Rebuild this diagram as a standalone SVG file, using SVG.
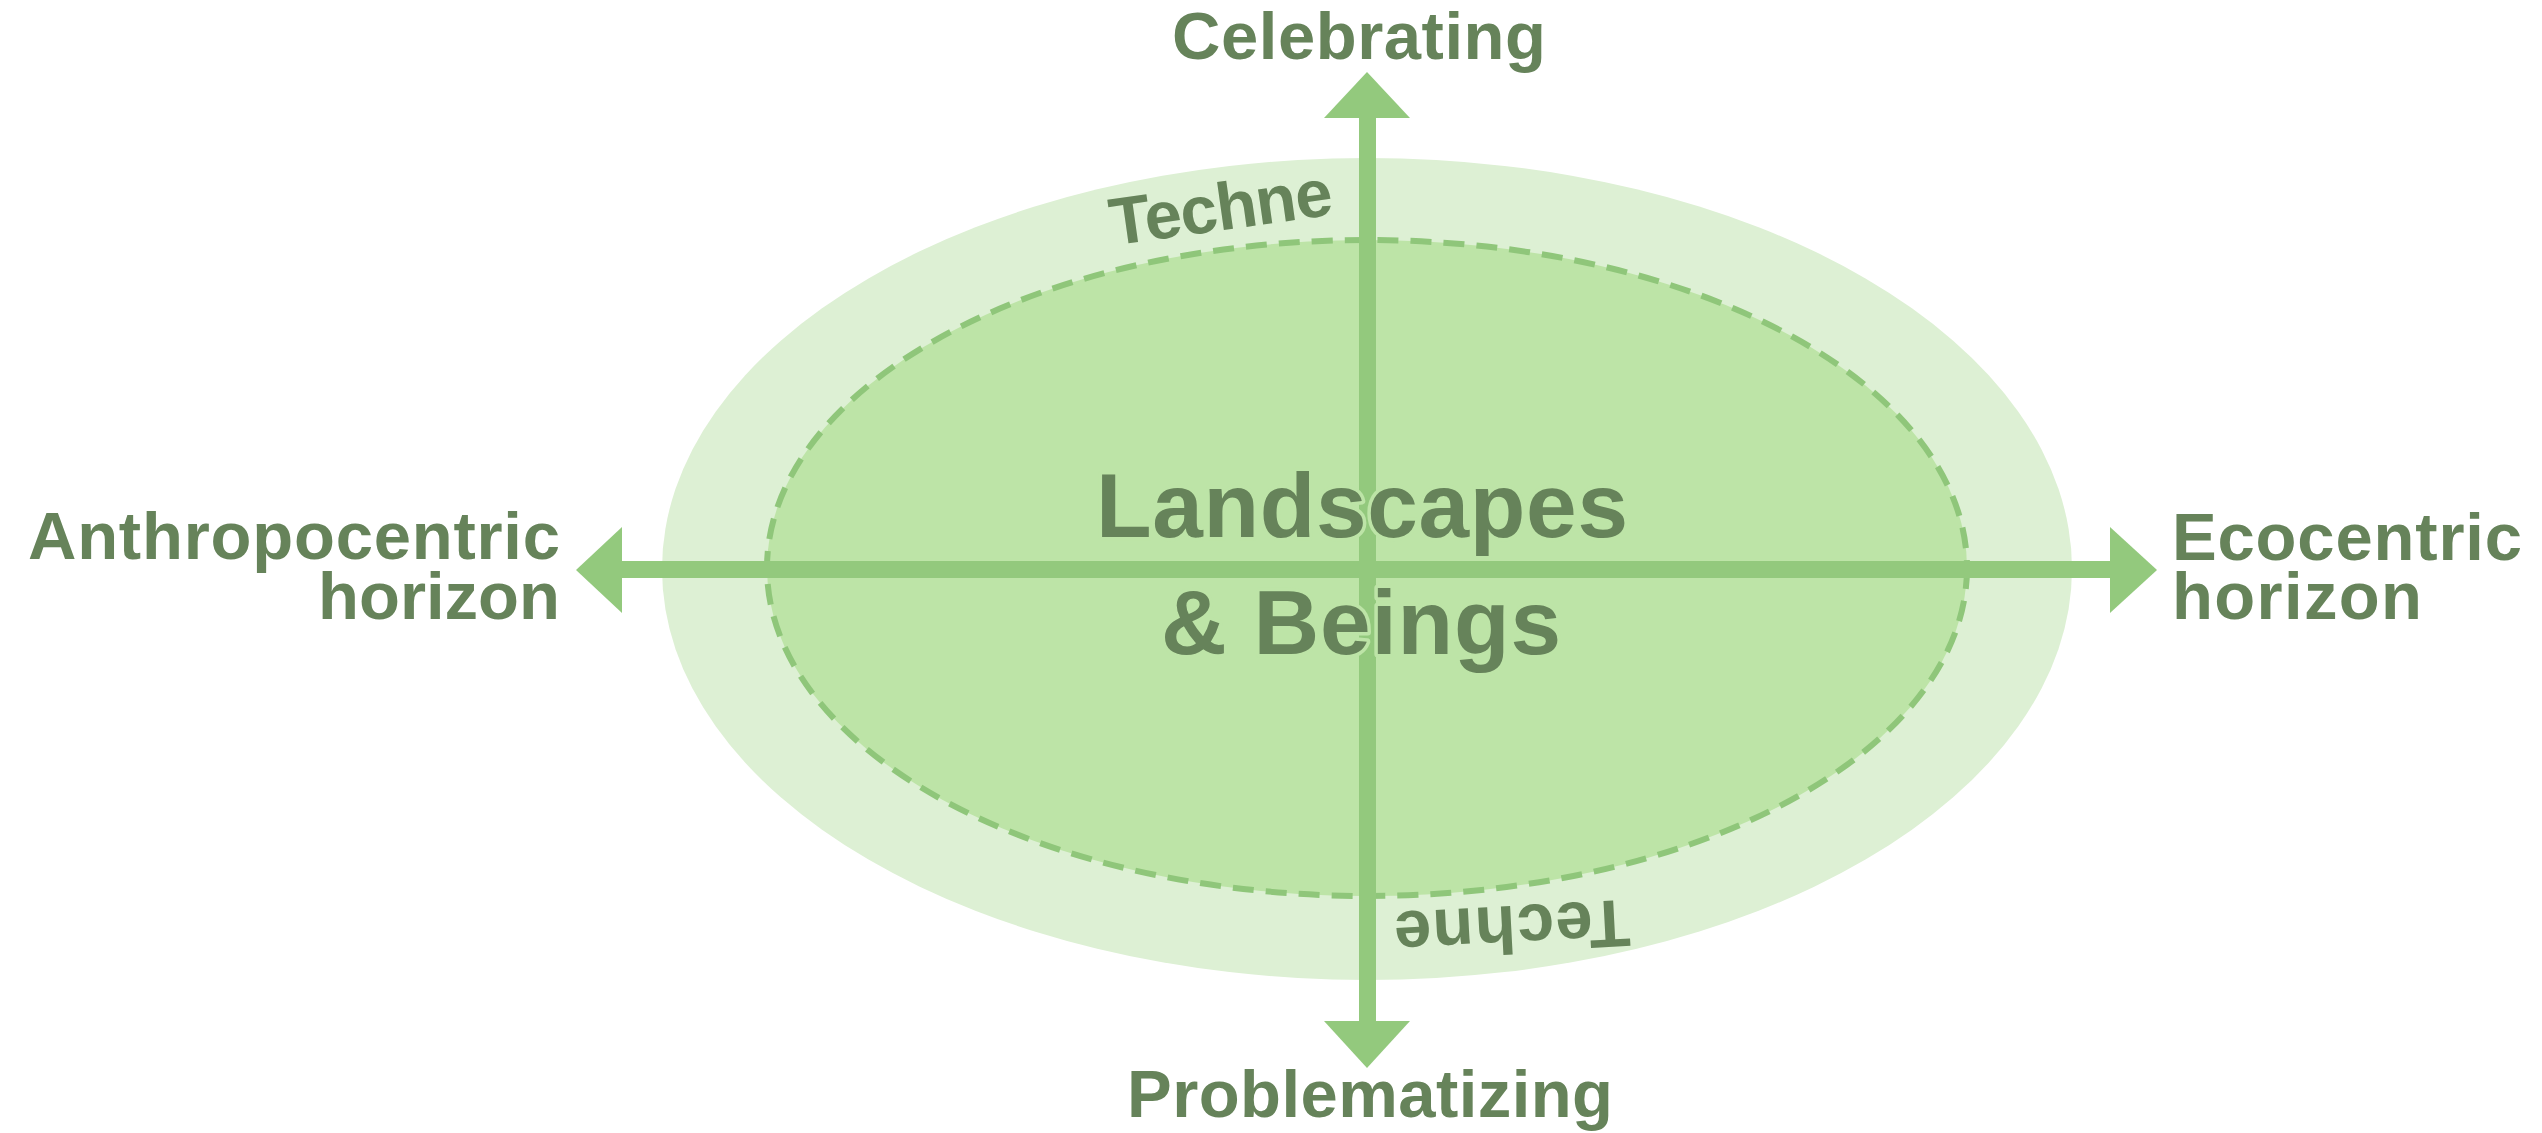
<svg xmlns="http://www.w3.org/2000/svg" width="2542" height="1133" viewBox="0 0 2542 1133">
  <style>
    .lbl { font-family: "Liberation Sans", Arial, sans-serif; font-weight: bold; fill: #66835a; font-size: 67px; }
    .big { font-size: 91px; stroke: #bde4a7; stroke-width: 7px; paint-order: stroke; stroke-linejoin: round; }
    .axis { fill: #93c97d; }
  </style>
  <rect width="2542" height="1133" fill="#ffffff"/>
  <g id="techne-zone">
    <ellipse cx="1367" cy="569" rx="705" ry="411" fill="#ddf0d4"/>
    <text class="lbl" x="1224" y="230" text-anchor="middle" textLength="224" lengthAdjust="spacing" transform="rotate(-8 1224 230)">Techne</text>
    <text class="lbl" x="1511" y="906" text-anchor="middle" textLength="236" lengthAdjust="spacing" transform="rotate(177 1511 906)">Techne</text>
  </g>
  <g id="landscapes-beings">
    <ellipse cx="1367" cy="568" rx="600" ry="328" fill="#bde4a7" stroke="#8fc67a" stroke-width="6" stroke-dasharray="21 12"/>
  </g>
  <g id="connectors">
    <rect class="axis" x="1359" y="116" width="17" height="907"/>
    <polygon class="axis" points="1367,72 1324,118 1410,118"/>
    <polygon class="axis" points="1367,1068 1324,1021 1410,1021"/>
    <rect class="axis" x="620" y="561" width="1492" height="17"/>
    <polygon class="axis" points="576,570 622,527 622,613"/>
    <polygon class="axis" points="2157,570 2110,527 2110,613"/>
  </g>
  <g id="center-label">
    <text class="lbl big" x="1362" y="537" text-anchor="middle" textLength="532" lengthAdjust="spacing">Landscapes</text>
    <text class="lbl big" x="1361" y="654" text-anchor="middle" textLength="400" lengthAdjust="spacing">&amp; Beings</text>
  </g>
  <g id="celebrating">
    <text class="lbl" x="1359" y="59" text-anchor="middle" textLength="374" lengthAdjust="spacing">Celebrating</text>
  </g>
  <g id="problematizing">
    <text class="lbl" x="1370" y="1117" text-anchor="middle" textLength="486" lengthAdjust="spacing">Problematizing</text>
  </g>
  <g id="anthropocentric">
    <text class="lbl" x="560" y="559" text-anchor="end" textLength="532" lengthAdjust="spacing">Anthropocentric</text>
    <text class="lbl" x="560" y="619" text-anchor="end" textLength="242" lengthAdjust="spacing">horizon</text>
  </g>
  <g id="ecocentric">
    <text class="lbl" x="2172" y="560" textLength="350" lengthAdjust="spacing">Ecocentric</text>
    <text class="lbl" x="2172" y="619" textLength="250" lengthAdjust="spacing">horizon</text>
  </g>
</svg>
